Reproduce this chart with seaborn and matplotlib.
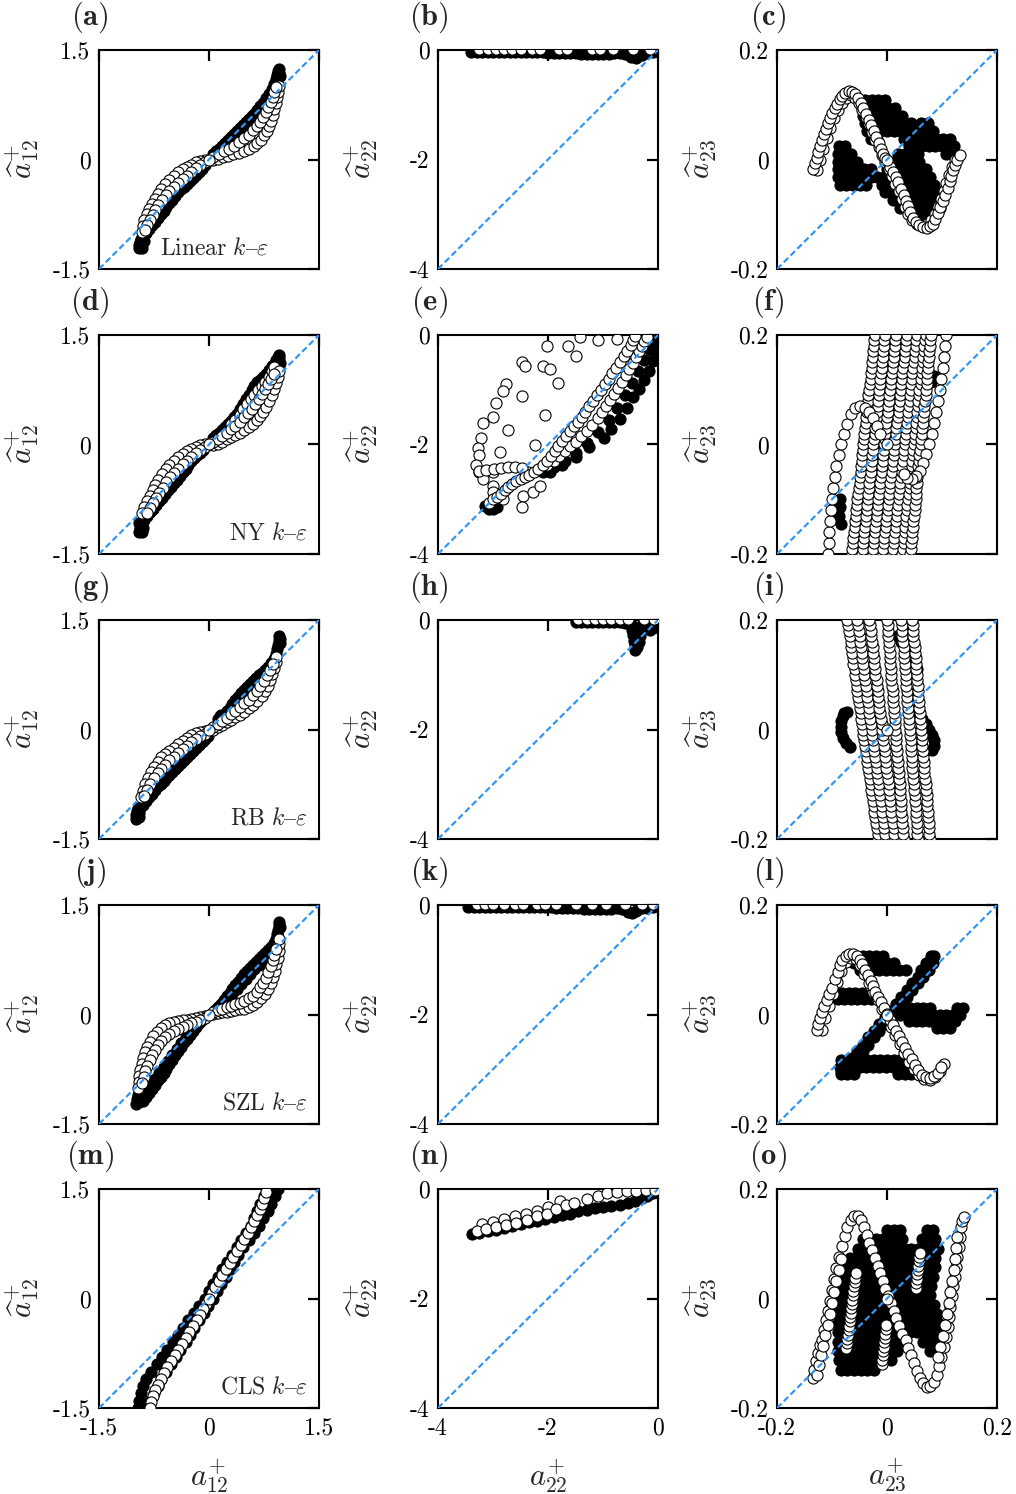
import matplotlib
matplotlib.use("Agg")
import matplotlib.pyplot as plt
import seaborn as sns

sns.set_theme(style="white")
plt.rcParams["font.family"] = ["cmr10", "DejaVu Serif"]
plt.rcParams["mathtext.fontset"] = "cm"
plt.rcParams["axes.unicode_minus"] = False
plt.rcParams["axes.formatter.use_mathtext"] = True

# ---------------- data ----------------
PANEL_LABELS = ["(a)", "(b)", "(c)", "(d)", "(e)", "(f)", "(g)", "(h)", "(i)",
                "(j)", "(k)", "(l)", "(m)", "(n)", "(o)"]
MODEL_NAMES = ["Linear", "NY", "RB", "SZL", "CLS"]
COL_LIMITS = [(-1.5, 1.5), (-4.0, 0.0), (-0.2, 0.2)]
COL_TICKS = [[-1.5, 0, 1.5], [-4, -2, 0], [-0.2, 0, 0.2]]
COL_TICKLABELS = [["-1.5", "0", "1.5"], ["-4", "-2", "0"], ["-0.2", "0", "0.2"]]
COL_XLABELS = [r"$a^{+}_{12}$", r"$a^{+}_{22}$", r"$a^{+}_{23}$"]
COL_YLABELS = [r"$\widehat{a}^{+}_{12}$", r"$\widehat{a}^{+}_{22}$", r"$\widehat{a}^{+}_{23}$"]

# ---- (a) Linear, a12
A_DARK = [(-0.96,-1.21),(-0.95,-1.17),(-0.94,-1.13),(-0.93,-1.09),(-0.92,-1.21),(-0.91,-1.16),(-0.89,-1.12),
          (-0.90,-1.06),(-0.86,-1.00),(-0.82,-0.95),(-0.78,-0.90),(-0.74,-0.85),(-0.70,-0.80),(-0.66,-0.75),
          (-0.62,-0.70),(-0.58,-0.65),(-0.54,-0.60),(-0.50,-0.55),(-0.46,-0.50),(-0.42,-0.45),(-0.38,-0.41),
          (-0.34,-0.37),(-0.30,-0.33),(-0.26,-0.29),(-0.22,-0.25),(-0.18,-0.21),(-0.14,-0.17),(-0.10,-0.13),(-0.06,-0.08),
          (0.06,0.08),(0.10,0.12),(0.14,0.15),(0.18,0.19),(0.22,0.23),(0.26,0.27),(0.30,0.31),(0.34,0.35),
          (0.38,0.39),(0.42,0.43),(0.46,0.47),(0.50,0.51),(0.54,0.55),(0.58,0.59),(0.62,0.63),(0.66,0.68),
          (0.70,0.73),(0.74,0.78),(0.78,0.84),(0.82,0.90),(0.86,0.97),(0.89,1.04),
          (0.92,1.10),(0.93,1.16),(0.94,1.21),(0.95,1.24),(0.96,1.19),(0.97,1.14)]
A_WHITE = [(-0.06,-0.01),(-0.12,-0.02),(-0.18,-0.04),(-0.24,-0.07),(-0.30,-0.10),(-0.36,-0.13),(-0.42,-0.17),
           (-0.48,-0.22),(-0.54,-0.28),(-0.60,-0.34),(-0.65,-0.40),(-0.70,-0.47),(-0.74,-0.54),(-0.78,-0.61),
           (-0.82,-0.68),(-0.85,-0.75),(-0.88,-0.83),(-0.90,-0.91),(-0.92,-0.99),
           (-0.06,-0.04),(-0.12,-0.08),(-0.18,-0.12),(-0.24,-0.17),(-0.30,-0.22),(-0.36,-0.27),(-0.42,-0.32),
           (-0.48,-0.37),(-0.54,-0.43),(-0.59,-0.49),(-0.64,-0.55),(-0.69,-0.62),(-0.73,-0.69),(-0.77,-0.76),
           (-0.81,-0.83),(-0.84,-0.90),(-0.87,-0.97),
           (0.06,-0.01),(0.12,0.01),(0.19,0.03),(0.26,0.05),(0.33,0.07),(0.41,0.09),(0.48,0.11),(0.55,0.14),
           (0.61,0.18),(0.66,0.22),(0.71,0.27),(0.75,0.33),(0.79,0.39),(0.82,0.46),(0.85,0.53),(0.87,0.61),
           (0.89,0.69),(0.91,0.77),(0.93,0.85),(0.94,0.93),(0.95,1.01),
           (0.06,0.03),(0.13,0.07),(0.20,0.11),(0.27,0.15),(0.34,0.19),(0.41,0.24),(0.48,0.29),(0.54,0.34),
           (0.60,0.40),(0.65,0.46),(0.70,0.52),(0.74,0.58),(0.78,0.65),(0.81,0.72),(0.84,0.79),(0.87,0.86),
           (0.89,0.93),(0.91,1.00),(0.0,0.0)]

# ---- (d) NY, a12
D_DARK = [(-0.95,-1.20),(-0.94,-1.15),(-0.93,-1.10),(-0.91,-1.20),(-0.90,-1.14),(-0.96,-1.08),
          (-0.88,-1.04),(-0.84,-0.98),(-0.80,-0.93),(-0.76,-0.88),(-0.72,-0.83),(-0.68,-0.78),(-0.64,-0.73),
          (-0.60,-0.68),(-0.56,-0.63),(-0.52,-0.58),(-0.48,-0.53),(-0.44,-0.48),(-0.40,-0.43),(-0.36,-0.38),
          (-0.32,-0.33),(-0.28,-0.28),(-0.24,-0.23),(-0.20,-0.19),(-0.16,-0.15),(-0.12,-0.11),(-0.08,-0.08),
          (0.06,0.09),(0.10,0.13),(0.14,0.16),(0.18,0.20),(0.22,0.24),(0.26,0.28),(0.30,0.32),(0.34,0.37),
          (0.38,0.42),(0.42,0.48),(0.46,0.55),(0.50,0.62),(0.54,0.68),(0.58,0.74),(0.62,0.80),(0.66,0.85),
          (0.70,0.89),(0.74,0.93),(0.78,0.97),(0.82,1.02),(0.86,1.07),(0.90,1.12),
          (0.92,1.16),(0.94,1.20),(0.95,1.23),(0.96,1.18),(0.97,1.12),(0.93,1.09)]
D_WHITE = [(-0.06,0.00),(-0.12,-0.01),(-0.18,-0.03),(-0.24,-0.06),(-0.30,-0.09),(-0.36,-0.13),(-0.42,-0.17),
           (-0.48,-0.22),(-0.54,-0.28),(-0.59,-0.34),(-0.64,-0.41),(-0.69,-0.48),(-0.73,-0.55),(-0.77,-0.62),
           (-0.81,-0.70),(-0.85,-0.78),(-0.88,-0.86),(-0.91,-0.94),
           (-0.06,-0.04),(-0.12,-0.08),(-0.18,-0.12),(-0.24,-0.17),(-0.30,-0.22),(-0.36,-0.27),(-0.42,-0.33),
           (-0.48,-0.39),(-0.53,-0.45),(-0.58,-0.52),(-0.63,-0.59),(-0.68,-0.66),(-0.72,-0.73),(-0.76,-0.80),
           (-0.80,-0.87),(-0.84,-0.94),
           (0.30,0.28),(0.36,0.34),(0.42,0.41),(0.47,0.48),(0.52,0.55),(0.57,0.62),(0.62,0.68),(0.67,0.74),
           (0.72,0.80),(0.77,0.86),(0.82,0.93),(0.86,1.00),(0.89,1.06),
           (0.06,-0.01),(0.12,0.01),(0.18,0.04),(0.24,0.07),(0.30,0.10),(0.36,0.13),(0.42,0.16),(0.48,0.20),
           (0.54,0.24),(0.60,0.28),(0.65,0.33),(0.70,0.39),(0.74,0.45),(0.78,0.52),(0.82,0.60),(0.86,0.68),
           (0.89,0.76),(0.92,0.84),(0.94,0.92),(0.95,1.00),
           (0.06,0.03),(0.12,0.07),(0.18,0.11),(0.24,0.16),(0.30,0.21),(0.36,0.26),(0.42,0.31),(0.48,0.37),
           (0.53,0.43),(0.58,0.49),(0.63,0.55),(0.68,0.62),(0.72,0.69),(0.76,0.76),(0.80,0.83),(0.84,0.90),
           (0.88,0.97),(0.0,0.0)]

# ---- (g) RB, a12
G_DARK = [(-1.00,-1.22),(-0.99,-1.17),(-0.98,-1.12),(-0.97,-1.07),(-0.96,-1.20),(-0.95,-1.15),
          (-0.94,-1.08),(-0.90,-1.03),(-0.86,-0.98),(-0.82,-0.93),(-0.78,-0.88),(-0.74,-0.83),(-0.70,-0.78),
          (-0.66,-0.74),(-0.62,-0.70),(-0.58,-0.66),(-0.54,-0.62),(-0.50,-0.58),(-0.46,-0.54),(-0.42,-0.50),
          (-0.38,-0.46),(-0.34,-0.42),(-0.30,-0.38),(-0.26,-0.34),(-0.22,-0.30),(-0.18,-0.26),(-0.14,-0.21),
          (-0.10,-0.17),(-0.06,-0.13),(-0.02,-0.09),
          (0.12,0.14),(0.15,0.18),(0.17,0.20),(-0.08,-0.16),
          (0.20,0.20),(0.24,0.25),(0.28,0.30),(0.32,0.35),(0.36,0.40),(0.40,0.45),(0.44,0.50),(0.48,0.54),
          (0.52,0.58),(0.56,0.62),(0.60,0.66),(0.64,0.70),(0.68,0.74),(0.72,0.78),(0.76,0.82),(0.80,0.86),
          (0.84,0.91),(0.88,0.97),(0.91,1.04),
          (0.93,1.10),(0.94,1.16),(0.95,1.22),(0.96,1.28),(0.97,1.24),(0.97,1.18)]
G_WHITE = [(-0.06,-0.02),(-0.12,-0.03),(-0.18,-0.05),(-0.24,-0.08),(-0.30,-0.12),(-0.36,-0.16),(-0.42,-0.20),
           (-0.48,-0.25),(-0.54,-0.29),(-0.60,-0.33),(-0.65,-0.38),(-0.70,-0.44),(-0.75,-0.51),(-0.79,-0.58),
           (-0.83,-0.66),(-0.87,-0.75),(-0.90,-0.84),(-0.93,-0.93),
           (-0.06,-0.06),(-0.12,-0.09),(-0.18,-0.13),(-0.24,-0.17),(-0.30,-0.22),(-0.36,-0.27),(-0.42,-0.32),
           (-0.48,-0.37),(-0.54,-0.42),(-0.60,-0.48),(-0.65,-0.54),(-0.70,-0.60),(-0.75,-0.67),(-0.80,-0.75),
           (-0.85,-0.83),(-0.89,-0.91),
           (0.06,0.00),(0.12,0.03),(0.18,0.06),(0.24,0.10),(0.30,0.13),(0.36,0.17),(0.42,0.20),(0.48,0.24),
           (0.54,0.29),(0.60,0.34),(0.66,0.39),(0.72,0.46),(0.76,0.53),(0.80,0.60),(0.83,0.68),(0.86,0.76),
           (0.89,0.84),(0.91,0.92),(0.92,1.00),
           (0.06,0.04),(0.12,0.08),(0.18,0.12),(0.24,0.16),(0.30,0.21),(0.36,0.26),(0.42,0.31),(0.48,0.36),
           (0.54,0.41),(0.60,0.47),(0.65,0.53),(0.70,0.60),(0.75,0.67),(0.79,0.74),(0.83,0.82),(0.87,0.90),
           (0.0,0.0)]

# ---- (j) SZL, a12
J_DARK = [(-0.99,-1.22),(-0.98,-1.16),(-0.97,-1.10),(-0.95,-1.20),(-0.94,-1.14),
          (-0.90,-1.18),(-0.86,-1.13),(-0.82,-1.08),(-0.78,-1.02),(-0.74,-0.96),(-0.70,-0.90),(-0.66,-0.85),
          (-0.62,-0.80),(-0.58,-0.74),(-0.54,-0.68),(-0.50,-0.62),(-0.46,-0.56),(-0.42,-0.50),(-0.38,-0.44),
          (-0.34,-0.38),(-0.30,-0.33),(-0.26,-0.28),(-0.22,-0.22),(-0.18,-0.17),(-0.14,-0.12),(-0.10,-0.07),(-0.06,-0.04),
          (-0.86,-1.05),(-0.80,-0.97),(-0.74,-0.88),(-0.68,-0.80),(-0.62,-0.72),(-0.56,-0.64),(-0.50,-0.56),
          (-0.44,-0.47),(-0.38,-0.39),(-0.32,-0.31),(-0.26,-0.23),(-0.20,-0.16),(-0.14,-0.09),
          (0.08,0.06),(0.12,0.10),(0.16,0.15),(0.20,0.20),(0.24,0.25),(0.28,0.30),(0.32,0.35),(0.36,0.40),
          (0.40,0.45),(0.44,0.50),(0.48,0.55),(0.52,0.60),(0.56,0.64),(0.60,0.68),(0.64,0.72),(0.68,0.76),
          (0.72,0.80),(0.76,0.84),(0.80,0.88),(0.84,0.93),(0.88,0.98),(0.91,1.04),
          (0.14,0.08),(0.20,0.14),(0.26,0.21),(0.32,0.28),(0.38,0.35),(0.44,0.42),(0.50,0.49),(0.56,0.56),
          (0.62,0.62),(0.68,0.68),(0.74,0.75),(0.80,0.82),(0.86,0.90),
          (0.93,1.10),(0.94,1.16),(0.95,1.22),(0.96,1.27),(0.97,1.20)]
J_WHITE = [(-0.06,-0.02),(-0.12,-0.04),(-0.18,-0.05),(-0.24,-0.06),(-0.30,-0.07),(-0.36,-0.08),(-0.42,-0.09),
           (-0.48,-0.10),(-0.54,-0.12),(-0.60,-0.15),(-0.66,-0.19),(-0.71,-0.24),(-0.76,-0.30),(-0.80,-0.37),
           (-0.84,-0.44),(-0.87,-0.52),(-0.90,-0.60),(-0.92,-0.68),(-0.94,-0.76),(-0.95,-0.84),(-0.96,-0.92),(-0.97,-1.00),
           (-0.06,-0.05),(-0.12,-0.08),(-0.18,-0.10),(-0.24,-0.12),(-0.30,-0.14),(-0.36,-0.17),(-0.42,-0.20),
           (-0.48,-0.23),(-0.54,-0.27),(-0.60,-0.31),(-0.65,-0.36),(-0.70,-0.42),(-0.74,-0.48),(-0.78,-0.55),
           (-0.81,-0.62),(-0.84,-0.70),(-0.87,-0.78),(-0.89,-0.86),(-0.91,-0.94),
           (0.06,0.01),(0.12,0.02),(0.18,0.03),(0.24,0.04),(0.30,0.05),(0.36,0.06),(0.42,0.07),(0.48,0.08),
           (0.54,0.10),(0.60,0.13),(0.66,0.17),(0.71,0.22),(0.76,0.28),(0.80,0.35),(0.84,0.43),(0.87,0.51),
           (0.90,0.60),(0.92,0.69),(0.94,0.78),(0.95,0.87),(0.96,0.96),(0.96,1.04),
           (0.06,0.04),(0.12,0.06),(0.18,0.08),(0.24,0.10),(0.30,0.12),(0.36,0.14),(0.42,0.16),(0.48,0.19),
           (0.54,0.22),(0.60,0.26),(0.65,0.31),(0.70,0.37),(0.74,0.43),(0.78,0.50),(0.81,0.58),(0.84,0.66),
           (0.87,0.74),(0.89,0.82),(0.91,0.90),(0.0,0.0)]

# ---- (m) CLS, a12
M_DARK = [(-0.97,-1.5),(-0.95,-1.4),(-0.93,-1.3),(-0.90,-1.2),(-0.86,-1.1),(-0.79,-1.0),(-0.71,-0.9),
          (-0.64,-0.8),(-0.57,-0.7),(-0.49,-0.6),(-0.42,-0.5),(-0.35,-0.4),(-0.28,-0.3),(-0.21,-0.2),
          (-0.13,-0.1),(-0.06,0.0),(0.00,0.1),(0.06,0.2),(0.12,0.3),(0.18,0.4),(0.25,0.5),(0.31,0.6),
          (0.38,0.7),(0.44,0.8),(0.51,0.9),(0.57,1.0),(0.62,1.1),(0.66,1.2),(0.70,1.3),(0.75,1.4),(0.80,1.5),
          (-0.84,-1.5),(-0.80,-1.4),(-0.75,-1.3),(-0.70,-1.2),(-0.66,-1.1),(-0.58,-1.0),(-0.52,-0.9),
          (-0.45,-0.8),(-0.39,-0.7),(-0.32,-0.6),(-0.26,-0.5),(-0.20,-0.4),(-0.13,-0.3),(-0.07,-0.2),
          (-0.01,-0.1),(0.05,0.0),(0.11,0.1),(0.17,0.2),(0.23,0.3),(0.28,0.4),(0.34,0.5),(0.40,0.6),
          (0.47,0.7),(0.54,0.8),(0.61,0.9),(0.68,1.0),(0.74,1.1),(0.80,1.2),(0.85,1.3),(0.90,1.4),(0.94,1.5)]
M_WHITE = [(-0.04,-0.07),(-0.08,-0.14),(-0.12,-0.22),(-0.17,-0.30),(-0.22,-0.38),(-0.27,-0.46),(-0.32,-0.54),
           (-0.37,-0.62),(-0.42,-0.70),(-0.47,-0.78),(-0.52,-0.86),(-0.57,-0.94),(-0.62,-1.02),(-0.66,-1.10),
           (-0.70,-1.18),(-0.73,-1.26),(-0.76,-1.34),(-0.79,-1.42),(-0.81,-1.50),
           (0.04,0.08),(0.08,0.16),(0.13,0.24),(0.18,0.32),(0.23,0.41),(0.28,0.49),(0.33,0.57),(0.38,0.65),
           (0.43,0.73),(0.48,0.81),(0.53,0.90),(0.57,0.98),(0.61,1.06),(0.65,1.14),(0.69,1.22),(0.72,1.30),
           (0.75,1.38),(0.78,1.46),(0.0,0.0)]

# ---- (b) Linear, a22
B_DARK = [(-3.40,-0.03),(-3.30,-0.03),(-3.20,-0.03),(-3.10,-0.03),(-3.00,-0.03),(-2.90,-0.03),(-2.80,-0.03),
          (-2.70,-0.03),(-2.60,-0.03),(-2.50,-0.03),(-2.40,-0.03),(-2.30,-0.03),(-2.20,-0.03),(-2.10,-0.03),
          (-2.00,-0.05),(-1.90,-0.05),(-1.80,-0.05),(-1.70,-0.06),(-1.60,-0.06),(-1.50,-0.06),(-1.40,-0.07),
          (-1.30,-0.07),(-1.20,-0.07),(-1.10,-0.07),(-1.00,-0.07),(-0.90,-0.07),(-0.80,-0.06),(-0.70,-0.06),
          (-0.60,-0.07),(-0.50,-0.12),(-0.40,-0.14),(-0.30,-0.10),(-0.20,-0.06),(-0.10,-0.04),(-0.02,-0.02)]
B_WHITE = [(-3.25,0.02),(-3.10,0.02),(-2.95,0.02),(-2.80,0.02),(-2.65,0.02),(-2.50,0.02),(-2.30,0.02),
           (-2.15,0.02),(-1.80,0.02),(-1.65,0.02),(-1.20,0.02),(-1.05,0.02),(-0.82,0.02),(-0.45,0.02),(-0.15,0.02)]

# ---- (e) NY, a22
E_DARK = [(-1.97,-2.50),(-1.75,-2.38),(-1.50,-2.22),(-1.25,-2.04),(-0.99,-1.88),(-0.85,-1.72),(-0.70,-1.53),
          (-0.56,-1.33),(-0.45,-1.14),(-0.35,-0.98),(-0.25,-0.83),(-0.17,-0.65),(-0.10,-0.48),(-0.06,-0.34),
          (-0.04,-0.20),(-0.03,-0.08),
          (-2.10,-2.50),(-1.90,-2.42),(-1.70,-2.30),(-1.50,-2.15),(-1.30,-1.98),(-1.10,-1.78),(-0.90,-1.55),
          (-0.75,-1.33),(-0.60,-1.10),(-0.48,-0.88),(-0.36,-0.66),(-0.25,-0.45),(-0.15,-0.27),(-0.07,-0.12),
          (-3.15,-3.12),(-3.08,-3.17),(-3.00,-3.18),(-2.92,-3.15)]
E_WHITE = [(-2.02,-0.20),(-1.63,-0.20),(-1.50,-0.38),(-1.10,-0.10),(-0.74,-0.07),(-1.41,-0.04),(-2.48,-0.50),
           (-2.42,-0.57),(-2.09,-0.57),(-1.96,-0.63),(-1.81,-0.87),(-2.76,-0.90),(-2.82,-1.03),(-2.48,-1.12),
           (-2.94,-1.24),(-3.00,-1.49),(-3.19,-1.61),(-2.73,-1.74),(-2.06,-1.46),(-3.22,-1.89),(-3.28,-2.07),
           (-3.25,-2.20),(-2.88,-2.14),(-2.24,-2.01),(-3.31,-2.38),(-3.25,-2.50),(-3.19,-2.63),(-3.00,-2.50),
           (-3.00,-2.75),(-3.00,-2.87),(-2.82,-3.00),(-2.45,-2.94),(-2.48,-3.15),(-2.27,-2.87),(-2.15,-2.75),
           (-2.36,-2.50),(-2.02,-2.38),
           (-3.25,-2.49),(-3.12,-2.47),(-2.99,-2.45),(-2.86,-2.43),(-2.73,-2.42),(-2.60,-2.42),(-2.47,-2.43),
           (-1.90,-2.30),(-1.80,-2.21),(-1.70,-2.12),(-1.60,-2.03),(-1.50,-1.95),(-1.40,-1.85),(-1.30,-1.75),
           (-1.20,-1.64),(-1.10,-1.52),(-1.02,-1.41),(-0.95,-1.30),(-0.87,-1.19),(-0.80,-1.08),(-0.73,-0.96),
           (-0.66,-0.85),(-0.59,-0.73),(-0.52,-0.62),(-0.46,-0.51),(-0.40,-0.40),(-0.35,-0.30),(-0.30,-0.20),
           (-0.25,-0.11),(-0.20,-0.04),
           (-3.07,-3.06),(-3.00,-3.00),(-2.93,-2.96),(-2.86,-2.90),(-2.79,-2.84),(-2.72,-2.78),(-2.65,-2.72),
           (-2.58,-2.67),(-2.50,-2.63),(-2.42,-2.59),(-2.34,-2.55),(-2.26,-2.50),(-2.18,-2.45),(-2.10,-2.38),
           (-2.02,-2.30),(-1.95,-2.21),(-1.88,-2.12),(-1.81,-2.03),(-1.74,-1.94),(-1.67,-1.85),(-1.60,-1.76),
           (-1.53,-1.67),(-1.46,-1.58),(-1.39,-1.49),(-1.32,-1.40),(-1.25,-1.30),(-1.18,-1.20),(-1.11,-1.10),
           (-1.04,-1.00),(-0.97,-0.90),(-0.90,-0.80),(-0.83,-0.70),(-0.76,-0.60),(-0.69,-0.50),(-0.62,-0.39),
           (-0.56,-0.29),(-0.50,-0.19),(-0.45,-0.09),(-0.42,-0.02)]

# ---- (h) RB, a22
H_DARK = [(-1.50,-0.04),(-1.40,-0.04),(-1.30,-0.04),(-1.20,-0.04),(-1.10,-0.04),(-1.00,-0.04),(-0.90,-0.04),
          (-0.80,-0.04),(-0.70,-0.04),(-0.60,-0.05),(-0.50,-0.08),(-0.47,-0.18),(-0.45,-0.28),(-0.43,-0.38),
          (-0.42,-0.46),(-0.41,-0.54),(-0.38,-0.50),(-0.35,-0.40),(-0.33,-0.30),(-0.32,-0.20),(-0.30,-0.10),
          (-0.20,-0.10),(-0.15,-0.18),(-0.10,-0.15),(-0.06,-0.10),(-0.03,-0.05)]
H_WHITE = [(-1.45,0.02),(-1.30,0.02),(-1.15,0.02),(-1.00,0.02),(-0.85,0.02),(-0.70,0.02),(-0.55,0.01),
           (-0.25,0.01),(-0.08,0.01)]

# ---- (k) SZL, a22
K_DARK = [(-3.45,-0.03),(-3.35,-0.03),(-3.25,-0.03),(-3.15,-0.03),(-3.05,-0.03),(-2.95,-0.03),(-2.85,-0.03),
          (-2.75,-0.03),(-2.65,-0.03),(-2.55,-0.03),(-2.45,-0.03),(-2.35,-0.03),(-2.25,-0.03),(-2.15,-0.03),
          (-2.05,-0.04),(-1.95,-0.04),(-1.85,-0.05),(-1.75,-0.05),(-1.65,-0.06),(-1.55,-0.06),(-1.45,-0.06),
          (-1.35,-0.07),(-1.25,-0.07),(-1.15,-0.07),(-1.05,-0.07),(-0.95,-0.07),(-0.85,-0.07),(-0.75,-0.06),
          (-0.65,-0.07),(-0.55,-0.12),(-0.47,-0.15),(-0.40,-0.11),(-0.30,-0.06),(-0.20,-0.05),(-0.10,-0.04),(-0.02,-0.02)]
K_WHITE = [(-3.30,0.02),(-3.15,0.02),(-3.00,0.02),(-2.80,0.02),(-2.60,0.02),(-2.45,0.02),(-2.20,0.02),
           (-2.05,0.02),(-1.85,0.02),(-1.50,0.01),(-1.20,0.01),(-0.95,0.01),(-0.60,0.01),(-0.30,0.01),(-0.10,0.01)]

# ---- (n) CLS, a22
N_DARK = [(-3.38,-0.82),(-3.25,-0.80),(-3.10,-0.77),(-2.95,-0.74),(-2.80,-0.71),(-2.65,-0.67),(-2.50,-0.64),
          (-2.35,-0.61),(-2.20,-0.58),(-2.05,-0.55),(-1.90,-0.52),(-1.75,-0.48),(-1.60,-0.45),(-1.45,-0.41),
          (-1.30,-0.38),(-1.15,-0.35),(-1.00,-0.33),(-0.85,-0.31),(-0.70,-0.29),(-0.55,-0.26),(-0.42,-0.22),
          (-0.30,-0.17),(-0.20,-0.12),(-0.10,-0.07),(-0.03,-0.04)]
N_WHITE = [(-3.20,-0.64),(-3.00,-0.60),(-2.80,-0.55),(-2.60,-0.50),(-2.40,-0.45),(-2.20,-0.40),(-2.00,-0.33),
           (-1.78,-0.22),
           (-3.30,-0.76),(-3.13,-0.73),(-2.95,-0.70),(-2.77,-0.66),(-2.58,-0.63),(-2.39,-0.57),(-2.20,-0.50),
           (-2.02,-0.45),(-1.85,-0.37),(-1.68,-0.30),(-1.53,-0.25),(-1.30,-0.18),(-1.10,-0.12),(-0.92,-0.08),
           (-0.74,-0.06),(-0.57,-0.04),(-0.40,-0.03),(-0.22,-0.02),(-0.06,-0.02)]

# ---- (c) Linear, a23  (dense black region given row by row: (y, [x, ...]))
C_DARK_ROWS = [
    (0.108, [-0.040,-0.028,-0.016,-0.004]),
    (0.094, [-0.046,-0.034,-0.022,-0.010,0.002,0.014]),
    (0.080, [-0.044,-0.032,-0.020,-0.008,0.004,0.016,0.028]),
    (0.066, [-0.040,-0.028,-0.016,-0.004,0.008,0.020,0.032,0.044,0.062,0.074]),
    (0.052, [-0.036,-0.024,-0.012,0.000,0.012,0.024,0.036,0.048,0.060,0.072,0.084]),
    (0.038, [-0.030,-0.018,0.030,0.042,0.054,0.066,0.078,0.090,0.102,0.114]),
    (0.024, [-0.088,-0.076,0.040,0.052,0.064,0.076,0.088,0.100,0.112,0.122]),
    (0.010, [-0.090,-0.078,-0.066,0.020,0.032,0.044,0.056,0.108,0.118]),
    (-0.004, [-0.090,-0.078,-0.066,-0.054,0.010,0.022,0.034,0.046,0.058]),
    (-0.018, [-0.090,-0.078,-0.066,-0.054,-0.042,-0.030,0.000,0.012,0.024,0.036,0.048,0.060,0.070]),
    (-0.032, [-0.090,-0.078,-0.066,-0.054,-0.042,-0.030,-0.018,-0.006,0.006,0.018,0.030,0.042,0.054,0.066,0.078]),
    (-0.046, [-0.086,-0.074,-0.062,-0.050,-0.038,-0.010,0.002,0.014,0.026,0.038,0.050,0.062,0.074,0.086]),
    (-0.060, [-0.004,0.008,0.020,0.032,0.044,0.056,0.068,0.080,0.092]),
    (-0.074, [0.010,0.022,0.034,0.046,0.058,0.070,0.082,0.094]),
    (-0.088, [0.024,0.036,0.048,0.060,0.072,0.084,0.096]),
    (-0.100, [0.050,0.062,0.074,0.086]),
]
C_WHITE = [(-0.128,-0.020),(-0.122,0.000),(-0.116,0.020),(-0.110,0.040),(-0.104,0.058),(-0.097,0.075),
           (-0.090,0.090),(-0.082,0.104),(-0.074,0.113),(-0.066,0.117),(-0.058,0.113),(-0.051,0.103),
           (-0.045,0.090),(-0.039,0.077),(-0.033,0.064),(-0.027,0.050),(-0.021,0.036),(-0.015,0.022),
           (-0.009,0.009),(-0.003,-0.004),(0.003,-0.017),(0.009,-0.030),(0.015,-0.044),(0.021,-0.058),
           (0.027,-0.072),(0.033,-0.086),(0.039,-0.099),(0.046,-0.110),(0.054,-0.117),(0.063,-0.120),
           (0.072,-0.118),(0.080,-0.111),(0.087,-0.100),(0.093,-0.087),(0.098,-0.073),(0.103,-0.058),
           (0.108,-0.043),(0.113,-0.028),(0.118,-0.013),(0.124,0.000),
           (-0.134,-0.017),(-0.131,-0.007),(-0.128,0.003),(-0.125,0.013),(-0.122,0.024),(-0.119,0.036),
           (-0.115,0.046),(-0.111,0.056),(-0.107,0.066),(-0.104,0.076),(-0.100,0.085),(-0.095,0.094),
           (-0.091,0.102),(-0.086,0.110),(-0.082,0.116),(-0.076,0.122),(-0.070,0.125),(-0.064,0.124),
           (-0.058,0.120),(-0.052,0.113),(-0.047,0.104),(-0.043,0.094),(-0.038,0.084),(-0.033,0.073),
           (-0.029,0.063),(-0.024,0.052),(-0.020,0.041),(-0.015,0.030),(-0.011,0.020),(-0.007,0.010),
           (-0.003,0.003),(0.002,-0.005),(0.006,-0.013),(0.011,-0.022),(0.016,-0.032),(0.020,-0.042),
           (0.025,-0.053),(0.030,-0.064),(0.034,-0.075),(0.038,-0.085),(0.042,-0.096),(0.047,-0.106),
           (0.052,-0.114),(0.058,-0.120),(0.065,-0.124),(0.072,-0.125),(0.078,-0.122),(0.083,-0.118),
           (0.088,-0.108),(0.093,-0.098),(0.097,-0.087),(0.102,-0.075),(0.106,-0.064),(0.110,-0.052),
           (0.114,-0.040),(0.117,-0.030),(0.120,-0.020),(0.124,-0.010),(0.128,0.000),(0.133,0.008),(0.0,0.0)]

# ---- near-vertical bands of (f) and (i), sampled at two interleaved level sets
LEVELS_A = [-0.20,-0.18,-0.16,-0.14,-0.12,-0.10,-0.08,-0.06,-0.04,-0.02,0.00,
            0.02,0.04,0.06,0.08,0.10,0.12,0.14,0.16,0.18,0.20]
LEVELS_B = [-0.19,-0.17,-0.15,-0.13,-0.11,-0.09,-0.07,-0.05,-0.03,-0.01,
            0.01,0.03,0.05,0.07,0.09,0.11,0.13,0.15,0.17,0.19]

# ---- (f) NY, a23
F_BANDS_A = [
    [-0.064,-0.062,-0.060,-0.058,-0.056,-0.054,-0.051,-0.049,-0.047,-0.045,-0.043,-0.041,-0.039,-0.037,-0.035,-0.033,-0.030,-0.028,-0.026,-0.024,-0.022],
    [-0.045,-0.043,-0.041,-0.039,-0.037,-0.035,-0.033,-0.031,-0.029,-0.027,-0.025,-0.022,-0.020,-0.018,-0.016,-0.014,-0.012,-0.010,-0.008,-0.006,-0.004],
    [-0.026,-0.024,-0.022,-0.020,-0.018,-0.016,-0.013,-0.011,-0.009,-0.007,-0.005,-0.003,-0.001,0.001,0.003,0.005,0.008,0.010,0.012,0.014,0.016],
    [-0.008,-0.006,-0.004,-0.001,0.001,0.003,0.005,0.007,0.010,0.012,0.014,0.016,0.018,0.021,0.023,0.025,0.027,0.029,0.032,0.034,0.036],
    [0.010,0.012,0.014,0.017,0.019,0.021,0.023,0.025,0.028,0.030,0.032,0.034,0.036,0.039,0.041,0.043,0.045,0.047,0.050,0.052,0.054],
    [0.028,0.030,0.032,0.034,0.036,0.038,0.041,0.043,0.045,0.047,0.049,0.051,0.053,0.055,0.057,0.059,0.062,0.064,0.066,0.068,0.070],
    [0.042,0.044,0.046,0.048,0.050,0.052,0.053,0.055,0.057,0.059,0.061,0.063,0.065,0.067,0.069,0.071,0.072,0.074,0.076,0.078,0.080],
]
F_BANDS_B = [
    [-0.063,-0.061,-0.059,-0.057,-0.055,-0.052,-0.050,-0.048,-0.046,-0.044,-0.042,-0.040,-0.038,-0.036,-0.034,-0.031,-0.029,-0.027,-0.025,-0.023],
    [-0.044,-0.042,-0.040,-0.038,-0.036,-0.034,-0.032,-0.030,-0.028,-0.026,-0.023,-0.021,-0.019,-0.017,-0.015,-0.013,-0.011,-0.009,-0.007,-0.005],
    [-0.025,-0.023,-0.021,-0.019,-0.017,-0.014,-0.012,-0.010,-0.008,-0.006,-0.004,-0.002,0.000,0.002,0.004,0.007,0.009,0.011,0.013,0.015],
    [-0.007,-0.005,-0.002,0.000,0.002,0.004,0.006,0.009,0.011,0.013,0.015,0.017,0.020,0.022,0.024,0.026,0.028,0.031,0.033,0.035],
    [0.011,0.013,0.016,0.018,0.020,0.022,0.024,0.027,0.029,0.031,0.033,0.035,0.038,0.040,0.042,0.044,0.046,0.049,0.051,0.053],
    [0.029,0.031,0.033,0.035,0.037,0.040,0.042,0.044,0.046,0.048,0.050,0.052,0.054,0.056,0.058,0.061,0.063,0.065,0.067,0.069],
    [0.043,0.045,0.047,0.049,0.051,0.053,0.054,0.056,0.058,0.060,0.062,0.064,0.066,0.068,0.070,0.072,0.073,0.075,0.077,0.079],
]
F_HOOKS = [(-0.107,-0.20),(-0.106,-0.18),(-0.105,-0.16),(-0.104,-0.14),(-0.102,-0.12),(-0.100,-0.10),
           (-0.098,-0.08),(-0.095,-0.06),(-0.092,-0.04),(-0.088,-0.02),(-0.084,0.00),(-0.079,0.02),
           (-0.073,0.038),(-0.066,0.055),(-0.058,0.066),(-0.049,0.070),(-0.040,0.067),(-0.032,0.060),
           (-0.025,0.048),(-0.019,0.034),(-0.013,0.020),
           (0.108,0.20),(0.106,0.18),(0.104,0.16),(0.102,0.14),(0.099,0.12),(0.096,0.10),(0.093,0.08),
           (0.089,0.06),(0.085,0.04),(0.081,0.02),(0.076,0.00),(0.071,-0.018),(0.066,-0.034),(0.060,-0.048),
           (0.053,-0.058),(0.045,-0.063),(0.037,-0.061),(0.030,-0.054),(0.0,0.0)]
F_DARK = [(-0.085,-0.100),(-0.086,-0.115),(-0.087,-0.130),(-0.084,-0.145),(0.075,0.125),(0.080,0.115),
          (0.085,0.125),(0.070,0.135),(0.015,0.020),(0.020,0.000),(-0.005,-0.040),(0.000,-0.060),
          (0.010,0.170),(0.020,0.160),(0.030,0.150),(-0.020,-0.120),(-0.015,-0.140)]

# ---- (i) RB, a23
I_BANDS_A = [
    [-0.016,-0.019,-0.022,-0.024,-0.027,-0.030,-0.033,-0.036,-0.038,-0.041,-0.044,-0.047,-0.050,-0.052,-0.055,-0.058,-0.061,-0.064,-0.066,-0.069,-0.072],
    [-0.002,-0.005,-0.007,-0.010,-0.012,-0.015,-0.018,-0.020,-0.023,-0.025,-0.028,-0.031,-0.033,-0.036,-0.038,-0.041,-0.044,-0.046,-0.049,-0.051,-0.054],
    [0.014,0.012,0.009,0.007,0.005,0.003,0.000,-0.002,-0.004,-0.007,-0.009,-0.011,-0.014,-0.016,-0.018,-0.021,-0.023,-0.025,-0.027,-0.030,-0.032],
    [0.030,0.029,0.027,0.026,0.024,0.023,0.021,0.020,0.018,0.017,0.015,0.014,0.012,0.011,0.009,0.008,0.006,0.005,0.003,0.002,0.000],
    [0.056,0.055,0.053,0.052,0.050,0.049,0.047,0.046,0.044,0.043,0.041,0.040,0.038,0.037,0.035,0.034,0.032,0.031,0.029,0.028,0.026],
    [0.078,0.076,0.075,0.073,0.072,0.070,0.068,0.067,0.065,0.064,0.062,0.060,0.059,0.057,0.056,0.054,0.052,0.051,0.049,0.048,0.046],
]
I_BANDS_B = [
    [-0.017,-0.020,-0.023,-0.026,-0.029,-0.031,-0.034,-0.037,-0.040,-0.043,-0.045,-0.048,-0.051,-0.054,-0.057,-0.059,-0.062,-0.065,-0.068,-0.071],
    [-0.003,-0.006,-0.009,-0.011,-0.014,-0.016,-0.019,-0.022,-0.024,-0.027,-0.029,-0.032,-0.035,-0.037,-0.040,-0.042,-0.045,-0.048,-0.050,-0.053],
    [0.013,0.011,0.008,0.006,0.004,0.001,-0.001,-0.003,-0.006,-0.008,-0.010,-0.013,-0.015,-0.017,-0.019,-0.022,-0.024,-0.026,-0.029,-0.031],
    [0.029,0.028,0.026,0.025,0.023,0.022,0.020,0.019,0.017,0.016,0.014,0.013,0.011,0.010,0.008,0.007,0.005,0.004,0.002,0.001],
    [0.055,0.054,0.052,0.051,0.049,0.048,0.046,0.045,0.043,0.042,0.040,0.039,0.037,0.036,0.034,0.033,0.031,0.030,0.028,0.027],
    [0.077,0.076,0.074,0.072,0.071,0.069,0.068,0.066,0.064,0.063,0.061,0.060,0.058,0.056,0.055,0.053,0.052,0.050,0.048,0.047],
]
I_DARK = [(-0.080,0.025),(-0.083,0.015),(-0.084,0.005),(-0.083,-0.005),(-0.080,-0.015),(-0.075,-0.025),
          (-0.068,-0.032),(-0.078,0.030),(-0.072,0.032),
          (0.045,0.040),(0.055,0.030),(0.063,0.020),(0.070,0.010),(0.076,0.000),(0.081,-0.010),(0.085,-0.020),
          (0.086,-0.030),(0.082,-0.037),
          (0.018,0.170),(0.025,0.160),(0.032,0.150),(0.038,0.140),(0.044,0.130),(0.050,0.120),(0.054,0.110)]
I_EXTRA = [(0.0,0.0)]

# ---- (l) SZL, a23
L_DARK_ROWS = [
    (0.106, [-0.056,-0.044,-0.032,-0.020,-0.008,0.080]),
    (0.094, [-0.060,-0.048,-0.036,-0.024,-0.012,0.000,0.012,0.070,0.084]),
    (0.082, [-0.050,-0.038,-0.026,-0.014,-0.002,0.010,0.022,0.034,0.062,0.074]),
    (0.040, [-0.094,-0.082,-0.070,-0.058,-0.046]),
    (0.028, [-0.090,-0.078,-0.066,-0.054,-0.042,-0.030]),
    (0.012, [0.030,0.042,0.054,0.066,0.078,0.128,0.138]),
    (0.000, [0.024,0.036,0.048,0.060,0.072,0.084,0.096,0.108,0.120,0.132]),
    (-0.012, [0.040,0.052,0.064,0.076,0.088,0.100,0.112,0.124]),
    (-0.024, [0.090,0.102,0.114]),
    (-0.084, [-0.084,-0.072,-0.060,-0.048,-0.036,-0.024,-0.012,0.000,0.012,0.024]),
    (-0.096, [-0.086,-0.074,-0.062,-0.050,-0.038,-0.026,-0.014,-0.002,0.010,0.022,0.034]),
    (-0.108, [-0.084,-0.072,-0.060,0.020,0.032,0.044]),
]
L_DIAG = [(-0.084,-0.104),(-0.074,-0.092),(-0.064,-0.079),(-0.054,-0.067),(-0.044,-0.055),(-0.034,-0.042),
          (-0.024,-0.030),(-0.014,-0.017),(-0.004,-0.005),(0.006,0.007),(0.016,0.020),(0.026,0.032),
          (0.036,0.045),(0.046,0.057),(0.056,0.069),(0.066,0.082),(0.076,0.094),(0.086,0.106),
          (-0.074,-0.104),(-0.064,-0.092),(-0.054,-0.079),(-0.044,-0.067),(-0.034,-0.055),(-0.024,-0.042),
          (-0.014,-0.030),(-0.004,-0.017),(0.006,-0.005),(0.016,0.007),(0.026,0.020),(0.036,0.032),
          (0.046,0.045),(0.056,0.057),(0.066,0.069),(0.076,0.082)]
L_WHITE = [(-0.119,-0.028),(-0.113,-0.006),(-0.106,0.016),(-0.098,0.038),(-0.091,0.059),(-0.083,0.080),
           (-0.075,0.095),(-0.066,0.103),(-0.057,0.101),(-0.049,0.091),(-0.041,0.074),(-0.033,0.058),
           (-0.025,0.042),(-0.017,0.026),(-0.009,0.010),(-0.001,-0.006),(0.007,-0.022),(0.015,-0.038),
           (0.023,-0.054),(0.031,-0.070),(0.040,-0.086),(0.049,-0.100),(0.058,-0.110),(0.068,-0.118),
           (0.078,-0.120),(0.088,-0.115),(0.097,-0.104),(0.104,-0.090),
           (-0.128,-0.029),(-0.125,-0.018),(-0.122,-0.007),(-0.118,0.004),(-0.114,0.015),(-0.110,0.026),
           (-0.105,0.037),(-0.100,0.048),(-0.095,0.064),(-0.089,0.078),(-0.085,0.090),(-0.081,0.099),
           (-0.075,0.107),(-0.069,0.111),(-0.062,0.110),(-0.055,0.106),(-0.050,0.100),(-0.045,0.092),
           (-0.040,0.082),(-0.035,0.072),(-0.030,0.062),(-0.025,0.052),(-0.021,0.042),(-0.016,0.032),
           (-0.011,0.022),(-0.006,0.012),(0.000,0.001),(0.006,-0.010),(0.011,-0.020),(0.016,-0.030),
           (0.021,-0.040),(0.027,-0.051),(0.033,-0.062),(0.039,-0.072),(0.045,-0.082),(0.051,-0.092),
           (0.057,-0.102),(0.064,-0.110),(0.071,-0.115),(0.078,-0.116),(0.085,-0.113),(0.092,-0.107),
           (0.099,-0.096),(0.0,0.0)]

# ---- (o) CLS, a23
O_DARK_ROWS = [
    (0.125, [0.000,0.012,0.024,0.072,0.084]),
    (0.108, [-0.044,-0.032,-0.020,-0.008,0.004,0.016,0.028,0.064,0.076,0.088]),
    (0.091, [-0.052,-0.040,-0.028,-0.016,-0.004,0.008,0.020,0.032,0.044,0.056,0.068,0.080,0.092]),
    (0.074, [-0.068,-0.056,-0.044,-0.032,-0.020,-0.008,0.004,0.016,0.028,0.040,0.052,0.064,0.076,0.088]),
    (0.057, [-0.078,-0.066,-0.054,-0.042,-0.030,-0.018,-0.006,0.006,0.018,0.030,0.042,0.054,0.066,0.078,0.088]),
    (0.040, [-0.084,-0.072,-0.060,-0.048,-0.036,-0.024,-0.012,0.000,0.012,0.024,0.036,0.048,0.060,0.072,0.084]),
    (0.023, [-0.087,-0.075,-0.063,-0.051,-0.039,-0.027,-0.015,-0.003,0.009,0.021,0.033,0.045,0.057,0.069,0.080]),
    (0.006, [-0.089,-0.077,-0.065,-0.053,-0.041,-0.029,-0.017,-0.005,0.007,0.019,0.031,0.043,0.055,0.067,0.078]),
    (-0.011, [-0.090,-0.078,-0.066,-0.054,-0.042,-0.030,-0.018,-0.006,0.006,0.018,0.030,0.042,0.054,0.066,0.078,0.086]),
    (-0.028, [-0.090,-0.078,-0.066,-0.054,-0.042,-0.030,-0.018,-0.006,0.006,0.018,0.030,0.042,0.054,0.066,0.078,0.090]),
    (-0.045, [-0.090,-0.078,-0.066,-0.054,-0.042,-0.030,-0.018,-0.006,0.006,0.018,0.030,0.042,0.054,0.066,0.078,0.092]),
    (-0.062, [-0.090,-0.078,-0.066,-0.054,-0.042,-0.030,-0.018,-0.006,0.006,0.018,0.030,0.042,0.054,0.066,0.078,0.092]),
    (-0.079, [-0.090,-0.078,-0.066,-0.054,-0.042,-0.030,-0.018,-0.006,0.006,0.018,0.030,0.066,0.078,0.090]),
    (-0.096, [-0.090,-0.078,-0.066,-0.054,-0.042,-0.030,-0.018,-0.006,0.006,0.018,0.078,0.088]),
    (-0.113, [-0.088,-0.076,-0.064,-0.052,-0.040,-0.028,-0.016,-0.004,0.008]),
    (-0.130, [-0.084,-0.072,-0.060,-0.048,-0.036,-0.024]),
]
O_GRAY = [(-0.074,-0.090),(-0.073,-0.082),(-0.072,-0.074),(-0.071,-0.066),(-0.070,-0.058),(-0.069,-0.050),
          (-0.068,-0.042),(-0.067,-0.034),(-0.066,-0.026),(-0.065,-0.018),(-0.064,-0.010),(-0.063,-0.002),
          (-0.062,0.006),(-0.061,0.014),(-0.060,0.022),(-0.059,0.030),(-0.058,0.038),(-0.057,0.046),
          (-0.010,-0.120),(-0.009,-0.112),(-0.008,-0.104),(-0.007,-0.096),(-0.006,-0.088),(-0.005,-0.080),
          (-0.004,-0.072),(-0.003,-0.064),(-0.002,-0.056),(-0.001,-0.048),
          (0.052,0.020),(0.053,0.028),(0.054,0.036),(0.055,0.044),(0.056,0.052),(0.057,0.060),(0.058,0.068),
          (0.059,0.076),(0.060,0.084)]
O_WHITE = [(-0.134,-0.146),(-0.132,-0.130),(-0.129,-0.115),(-0.126,-0.100),(-0.122,-0.085),(-0.119,-0.076),
           (-0.115,-0.058),(-0.111,-0.040),(-0.107,-0.022),(-0.104,-0.004),(-0.100,0.016),(-0.096,0.036),
           (-0.092,0.056),(-0.087,0.076),(-0.082,0.096),(-0.077,0.114),(-0.072,0.130),(-0.066,0.143),
           (-0.060,0.150),(-0.053,0.150),(-0.047,0.144),(-0.042,0.130),(-0.037,0.116),(-0.032,0.102),
           (-0.027,0.089),(-0.022,0.074),(-0.017,0.060),(-0.012,0.046),(-0.008,0.032),(-0.003,0.018),
           (0.002,0.004),(0.007,-0.008),(0.012,-0.022),(0.017,-0.036),(0.022,-0.051),(0.028,-0.064),
           (0.034,-0.076),(0.039,-0.090),(0.044,-0.104),(0.049,-0.118),(0.054,-0.132),(0.060,-0.145),
           (0.066,-0.155),(0.072,-0.161),(0.079,-0.160),(0.085,-0.152),(0.090,-0.140),(0.095,-0.124),
           (0.099,-0.106),(0.103,-0.088),(0.107,-0.070),(0.110,-0.052),(0.113,-0.034),(0.115,-0.015),
           (0.118,0.004),(0.120,0.022),(0.123,0.040),(0.126,0.058),(0.128,0.076),(0.130,0.094),(0.132,0.112),
           (0.134,0.130),(0.137,0.142),(0.140,0.148),
           (-0.127,-0.140),(-0.124,-0.122),(-0.120,-0.104),(-0.116,-0.086),(-0.112,-0.066),(-0.108,-0.048),
           (-0.104,-0.028),(-0.100,-0.008),(-0.096,0.012),(-0.092,0.032),(-0.088,0.052),(-0.083,0.072),
           (0.127,0.112),(0.125,0.092),(0.123,0.072),(0.121,0.052),(0.118,0.032),(0.115,0.012),(0.112,-0.008),
           (0.109,-0.028),(0.105,-0.048),(0.101,-0.068),(0.097,-0.088),(0.093,-0.106),
           (0.0,0.0)]


def rows_to_points(rows):
    pts = []
    for y, xs in rows:
        pts.extend((x, y) for x in xs)
    return pts


def bands_to_points(bands_a, bands_b):
    pts = []
    for xs_a, xs_b in zip(bands_a, bands_b):
        band = list(zip(xs_a, LEVELS_A)) + list(zip(xs_b, LEVELS_B))
        band.sort(key=lambda p: p[1])
        pts.extend(band)
    return pts


C_DARK = rows_to_points(C_DARK_ROWS)
L_DARK = rows_to_points(L_DARK_ROWS) + L_DIAG
O_DARK = rows_to_points(O_DARK_ROWS)
F_WHITE = bands_to_points(F_BANDS_A, F_BANDS_B) + F_HOOKS
I_WHITE = bands_to_points(I_BANDS_A, I_BANDS_B) + I_EXTRA
O_ALL_WHITE = O_GRAY + O_WHITE

PANEL_DATA = [
    (A_DARK, A_WHITE), (B_DARK, B_WHITE), (C_DARK, C_WHITE),
    (D_DARK, D_WHITE), (E_DARK, E_WHITE), (F_DARK, F_WHITE),
    (G_DARK, G_WHITE), (H_DARK, H_WHITE), (I_DARK, I_WHITE),
    (J_DARK, J_WHITE), (K_DARK, K_WHITE), (L_DARK, L_WHITE),
    (M_DARK, M_WHITE), (N_DARK, N_WHITE), (O_DARK, O_ALL_WHITE),
]

# ---------------- figure ----------------
FIG_W, FIG_H = 1016, 1494
fig = plt.figure(figsize=(FIG_W / 100, FIG_H / 100), dpi=100)
col_left = [99, 438, 777]
row_top = [50, 335, 620, 905, 1189]
AX_W, AX_H = 220, 219
DIAG_COLOR = "#3396f4"
MSIZE = 64

for idx, (dark, white) in enumerate(PANEL_DATA):
    r, c = divmod(idx, 3)
    ax = fig.add_axes([col_left[c] / FIG_W, 1 - (row_top[r] + AX_H) / FIG_H,
                       AX_W / FIG_W, AX_H / FIG_H])
    lo, hi = COL_LIMITS[c]
    if dark:
        dx, dy = zip(*dark)
        sns.scatterplot(x=list(dx), y=list(dy), ax=ax, s=MSIZE, color="black",
                        edgecolor="black", linewidth=0.8, legend=False, zorder=2)
    wx, wy = zip(*white)
    sns.scatterplot(x=list(wx), y=list(wy), ax=ax, s=MSIZE, color="white",
                    edgecolor="black", linewidth=0.8, legend=False, zorder=3)
    ax.plot([lo, hi], [lo, hi], color=DIAG_COLOR, lw=1.6, ls=(0, (2.8, 1.5)), zorder=5)
    ax.set_xlim(lo, hi)
    ax.set_ylim(lo, hi)
    ax.set_xticks(COL_TICKS[c])
    ax.set_yticks(COL_TICKS[c])
    ax.set_xticklabels(COL_TICKLABELS[c])
    ax.set_yticklabels(COL_TICKLABELS[c])
    ax.tick_params(direction="in", length=8, width=1.6, top=True, right=True,
                   labelsize=17, pad=6, colors="black")
    ax.tick_params(axis="x", pad=7, labelbottom=(r == 4))
    for sp in ax.spines.values():
        sp.set_linewidth(1.5)
        sp.set_color("black")
    ax.set_xlabel(COL_XLABELS[c] if r == 4 else "", fontsize=22)
    ax.xaxis.set_label_coords(0.5, -0.225)
    ax.set_ylabel(COL_YLABELS[c], fontsize=22)
    ax.yaxis.set_label_coords(-0.265, 0.5)
    ax.text(-0.04, 1.15, r"$\mathbf{" + PANEL_LABELS[idx] + "}$", transform=ax.transAxes,
            ha="center", va="center", fontsize=22)
    if c == 0:
        label = r"$\mathrm{" + MODEL_NAMES[r] + r"}\ k–\varepsilon$"
        if r == 0:
            ax.text(0.525, 0.095, label, transform=ax.transAxes, ha="center",
                    va="center", fontsize=17, zorder=6)
        else:
            ax.text(0.948, 0.095, label, transform=ax.transAxes, ha="right",
                    va="center", fontsize=17, zorder=6)

fig.savefig("out.png", dpi=100)
